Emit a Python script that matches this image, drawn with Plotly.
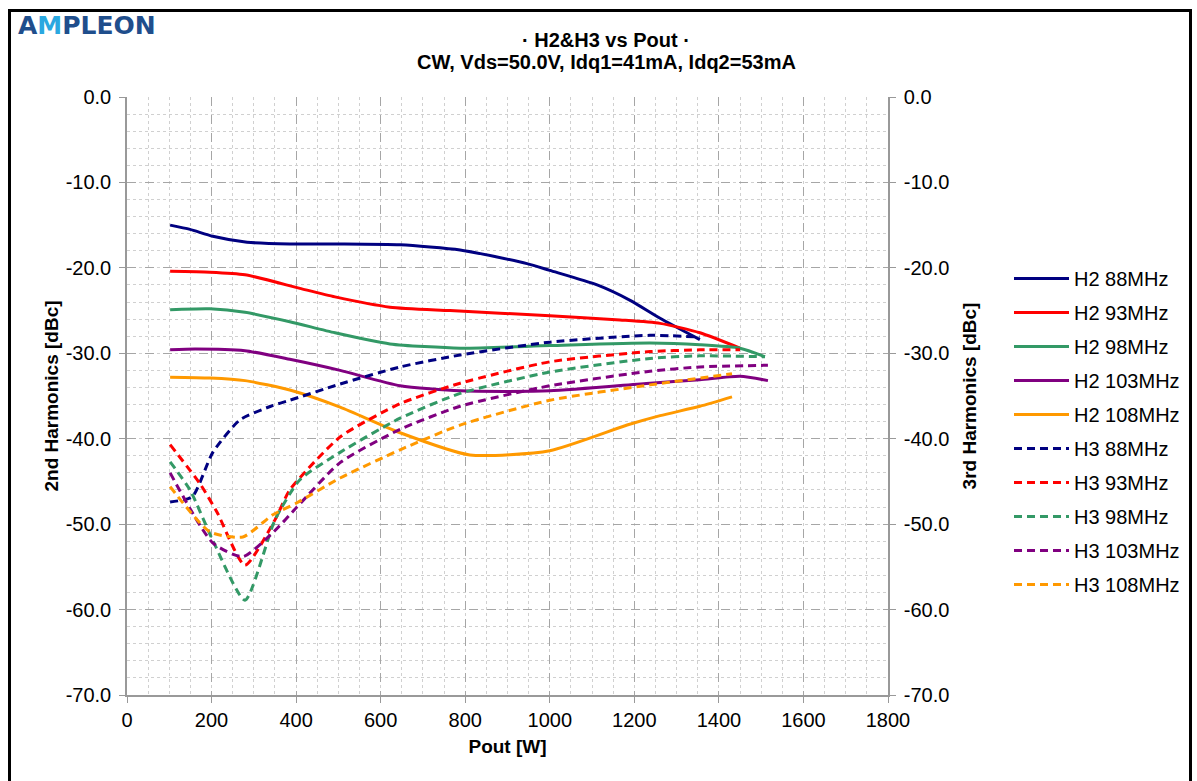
import plotly.graph_objects as go

# ---- data (Pout in W, harmonics in dBc) ----
h2_88_p = [102, 149, 203, 284, 385, 504, 646, 788, 946, 1000, 1112, 1190, 1261, 1355]
h2_88_v = [-15.0, -15.5, -16.3, -17.0, -17.2, -17.2, -17.3, -17.9, -19.5, -20.3, -22.0, -23.8, -25.9, -28.4]

h2_93_p = [102, 196, 279, 409, 492, 622, 764, 1000, 1166, 1261, 1355, 1450]
h2_93_v = [-20.4, -20.5, -20.8, -22.4, -23.4, -24.6, -25.0, -25.6, -26.1, -26.5, -27.6, -29.4]

h2_98_p = [102, 196, 279, 385, 492, 622, 788, 1000, 1237, 1355, 1450, 1509]
h2_98_v = [-24.9, -24.8, -25.2, -26.3, -27.6, -28.9, -29.4, -29.1, -28.8, -29.0, -29.4, -30.4]

h2_103_p = [102, 161, 279, 385, 504, 646, 788, 1000, 1237, 1355, 1450, 1516]
h2_103_v = [-29.6, -29.5, -29.7, -30.7, -32.0, -33.8, -34.4, -34.4, -33.5, -33.1, -32.7, -33.2]

h2_108_p = [102, 196, 279, 385, 504, 646, 811, 1000, 1183, 1261, 1355, 1431]
h2_108_v = [-32.8, -32.9, -33.2, -34.3, -36.3, -39.3, -41.9, -41.4, -38.4, -37.3, -36.2, -35.1]

h3_88_p = [102, 154, 203, 267, 340, 385, 504, 646, 788, 1000, 1237, 1355]
h3_88_v = [-47.4, -46.8, -41.6, -37.8, -36.2, -35.5, -33.6, -31.6, -30.2, -28.7, -27.9, -28.1]

h3_93_p = [102, 173, 213, 279, 350, 385, 504, 646, 788, 1000, 1237, 1355, 1450]
h3_93_v = [-40.7, -45.3, -48.6, -54.8, -49.5, -46.0, -39.8, -35.9, -33.5, -31.0, -29.8, -29.6, -29.6]

h3_98_p = [102, 149, 203, 279, 350, 409, 504, 646, 788, 1000, 1237, 1355, 1509]
h3_98_v = [-42.7, -46.0, -51.9, -58.9, -49.5, -44.8, -41.6, -37.6, -34.7, -32.2, -30.6, -30.3, -30.4]

h3_103_p = [102, 203, 274, 345, 402, 504, 646, 788, 1000, 1237, 1355, 1516]
h3_103_v = [-44.0, -52.2, -53.8, -51.0, -48.0, -42.8, -38.9, -36.2, -33.8, -32.1, -31.6, -31.4]

h3_108_p = [102, 196, 274, 345, 402, 504, 646, 788, 1000, 1237, 1431]
h3_108_v = [-45.6, -50.9, -51.5, -48.9, -47.5, -44.6, -41.3, -38.4, -35.5, -33.7, -32.4]

x_ticks = [0, 200, 400, 600, 800, 1000, 1200, 1400, 1600, 1800]
y_ticks = [0, -10, -20, -30, -40, -50, -60, -70]
y_tick_labels = ["0.0", "-10.0", "-20.0", "-30.0", "-40.0", "-50.0", "-60.0", "-70.0"]

colors = {"88": "#000080", "93": "#FF0000", "98": "#339966", "103": "#800080", "108": "#FF9900"}

series = [
    ("H2 88MHz", h2_88_p, h2_88_v, "88", "solid", "y"),
    ("H2 93MHz", h2_93_p, h2_93_v, "93", "solid", "y"),
    ("H2 98MHz", h2_98_p, h2_98_v, "98", "solid", "y"),
    ("H2 103MHz", h2_103_p, h2_103_v, "103", "solid", "y"),
    ("H2 108MHz", h2_108_p, h2_108_v, "108", "solid", "y"),
    ("H3 88MHz", h3_88_p, h3_88_v, "88", "8px,5px", "y2"),
    ("H3 93MHz", h3_93_p, h3_93_v, "93", "8px,5px", "y2"),
    ("H3 98MHz", h3_98_p, h3_98_v, "98", "8px,5px", "y2"),
    ("H3 103MHz", h3_103_p, h3_103_v, "103", "8px,5px", "y2"),
    ("H3 108MHz", h3_108_p, h3_108_v, "108", "8px,5px", "y2"),
]

fig = go.Figure()
for i, (name, xs, ys, key, dash, yax) in enumerate(series):
    fig.add_trace(go.Scatter(
        x=xs, y=ys, name=name, mode="lines", yaxis=yax,
        legendgroup=f"g{i}",
        line=dict(color=colors[key], width=3, dash=dash, shape="spline", smoothing=0.6),
    ))

FONT = "Liberation Sans, Arial, sans-serif"
grid_major = "#A6A6A6"
grid_minor = "#D0D0D0"

axis_common = dict(
    range=[-70, 0], tickvals=y_ticks, ticktext=y_tick_labels,
    tickfont=dict(size=20, color="black", family=FONT),
    showline=True, linecolor="#999999", linewidth=1.5,
    ticks="outside", ticklen=6, tickcolor="#999999",
    ticklabelstandoff=4,
    zeroline=False,
)

fig.update_layout(
    width=1197, height=781,
    margin=dict(l=127, r=309, t=97, b=86),
    paper_bgcolor="white", plot_bgcolor="white",
    font=dict(family=FONT, color="black"),
    showlegend=True,
    xaxis=dict(
        range=[0, 1800], tickvals=x_ticks,
        tickfont=dict(size=20, color="black", family=FONT),
        showline=True, linecolor="#999999", linewidth=1.5,
        ticks="outside", ticklen=6, tickcolor="#999999",
        showgrid=True, gridcolor=grid_major, griddash="dash", gridwidth=1,
        minor=dict(dtick=50, tick0=0, showgrid=True, gridcolor=grid_minor, griddash="dot", gridwidth=1),
        zeroline=False,
        title=dict(text="<b>Pout [W]</b>", font=dict(size=19, family=FONT), standoff=10),
    ),
    yaxis=dict(
        **axis_common,
        showgrid=True, gridcolor=grid_major, griddash="dash", gridwidth=1,
        minor=dict(dtick=2, tick0=0, showgrid=True, gridcolor=grid_minor, griddash="dot", gridwidth=1),
        title=dict(text="<b>2nd Harmonics [dBc]</b>", font=dict(size=19, family=FONT), standoff=2),
    ),
    yaxis2=dict(
        **axis_common,
        overlaying="y", side="right", showgrid=False,
        title=dict(text="<b>3rd Harmonics [dBc]</b>", font=dict(size=19, family=FONT), standoff=14),
    ),
    legend=dict(
        x=1.159, y=0.729, xanchor="left", yanchor="top",
        font=dict(size=20, family=FONT, color="black"),
        tracegroupgap=5, itemwidth=55, bgcolor="rgba(0,0,0,0)",
    ),
)

# title (two lines, centred over the chart)
fig.add_annotation(
    xref="paper", yref="paper", x=(606 - 127) / 761, y=(695 - 40) / 598,
    xanchor="center", yanchor="middle", showarrow=False,
    text="<b>· H2&H3 vs Pout ·</b>", font=dict(size=20, family=FONT, color="black"),
)
fig.add_annotation(
    xref="paper", yref="paper", x=(606 - 127) / 761, y=(695 - 62) / 598,
    xanchor="center", yanchor="middle", showarrow=False,
    text="<b>CW, Vds=50.0V, Idq1=41mA, Idq2=53mA</b>", font=dict(size=20, family=FONT, color="black"),
)

# logo text
fig.add_annotation(
    xref="paper", yref="paper",
    x=(16 - 127) / 761, y=(695 - 26) / 598, xanchor="left", yanchor="middle",
    text="<b>A<span style='color:#2AA8E0'>M</span>PLEON</b>",
    showarrow=False, font=dict(size=25, family="DejaVu Sans", color="#1F4E8C"),
)

# outer black frame
fig.add_shape(
    type="rect", xref="paper", yref="paper",
    x0=(9.5 - 127) / 761, x1=(1190.5 - 127) / 761,
    y0=(695 - 800) / 598, y1=(695 - 10.5) / 598,
    line=dict(color="black", width=3), fillcolor="rgba(0,0,0,0)", layer="above",
)

fig.write_html("out.html")
